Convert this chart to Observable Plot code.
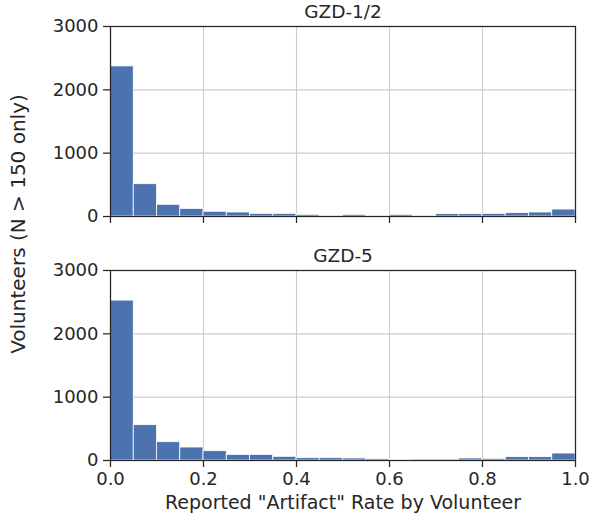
<!DOCTYPE html>
<html>
<head>
<meta charset="utf-8">
<script src="https://cdn.jsdelivr.net/npm/d3@7"></script>
<script src="https://cdn.jsdelivr.net/npm/@observablehq/plot@0.6"></script>
<style>
  html, body { margin: 0; padding: 0; background: #fff; }
  #wrap { position: relative; width: 589px; height: 517px; font-family: "DejaVu Sans", sans-serif; color: #262626; }
  #wrap svg { position: absolute; left: 0; overflow: visible; }
  #ylab { position: absolute; left: 18px; top: 224px; transform: translate(-50%, -50%) rotate(-90deg); white-space: nowrap; font-size: 20px; line-height: 1; }
</style>
</head>
<body>
<div id="wrap"><div id="ylab">Volunteers (N &gt; 150 only)</div></div>
<script>
// Bin edges (reported artifact rate), 20 bins of width 0.05
const binEdges = [0.00, 0.05, 0.10, 0.15, 0.20, 0.25, 0.30, 0.35, 0.40, 0.45, 0.50,
                  0.55, 0.60, 0.65, 0.70, 0.75, 0.80, 0.85, 0.90, 0.95, 1.00];
// Volunteer counts per bin
const countsGZD12 = [2370, 510, 185, 120, 75, 63, 42, 42, 26, 11, 26, 11, 26, 11, 37, 37, 42, 53, 63, 110];
const countsGZD5  = [2525, 558, 289, 205, 147, 89, 89, 58, 37, 37, 32, 21, 11, 16, 16, 32, 26, 53, 53, 110];
const panelTitles = ["GZD-1/2", "GZD-5"];
const xTicks = [0, 0.2, 0.4, 0.6, 0.8, 1.0];
const yTicks = [0, 1000, 2000, 3000];
const xLabel = 'Reported "Artifact" Rate by Volunteer';

const ink = "#262626";
const barColor = "#4c72b0";
const tickFont = 18;
const labelFont = 19;
const titleFont = 18.5;

function toBins(counts) {
  return counts.map((c, i) => ({x1: binEdges[i], x2: binEdges[i + 1], count: c}));
}

function panel(counts, title, opts) {
  return Plot.plot({
    width: 589,
    height: opts.height,
    marginLeft: 110,
    marginRight: 14,
    marginTop: opts.marginTop,
    marginBottom: opts.marginBottom,
    style: {fontFamily: '"DejaVu Sans", sans-serif', fontSize: tickFont + "px", color: ink, background: "transparent"},
    x: {domain: [0, 1]},
    y: {domain: [0, 3000]},
    marks: [
      Plot.gridX(xTicks, {stroke: "#cccccc", strokeOpacity: 1, strokeWidth: 1.1}),
      Plot.gridY(yTicks, {stroke: "#cccccc", strokeOpacity: 1, strokeWidth: 1.1}),
      Plot.rectY(toBins(counts), {x1: "x1", x2: "x2", y: "count", fill: barColor, stroke: "white", strokeWidth: 0.8}),
      Plot.frame({stroke: ink, strokeWidth: 1.25}),
      Plot.axisY(yTicks, {tickSize: 7, tickPadding: 5, stroke: ink, strokeWidth: 1.25, label: null,
                          tickFormat: d3.format("d"), fill: ink, fontSize: tickFont}),
      Plot.axisX(xTicks, {tickSize: 7, tickPadding: 5, stroke: ink, strokeWidth: 1.25, label: null,
                          tickFormat: opts.showX ? d3.format(".1f") : () => "", fill: ink, fontSize: tickFont}),
      Plot.text([title], {frameAnchor: "top", lineAnchor: "bottom", dy: -9, fill: ink, fontSize: titleFont}),
      ...(opts.showX ? [Plot.text([xLabel], {frameAnchor: "bottom", lineAnchor: "bottom", dy: 48, fill: ink, fontSize: labelFont})] : [])
    ]
  });
}

const wrap = document.getElementById("wrap");
const top1 = panel(countsGZD12, panelTitles[0], {height: 245, marginTop: 26, marginBottom: 29, showX: false});
top1.style.top = "0px";
wrap.appendChild(top1);
const bot = panel(countsGZD5, panelTitles[1], {height: 272, marginTop: 25, marginBottom: 57, showX: true});
bot.style.top = "245px";
wrap.appendChild(bot);
// make sure tick labels use the intended size
d3.select(wrap).selectAll('g[aria-label$="tick label"] text').style("font-size", tickFont + "px");
</script>
</body>
</html>
